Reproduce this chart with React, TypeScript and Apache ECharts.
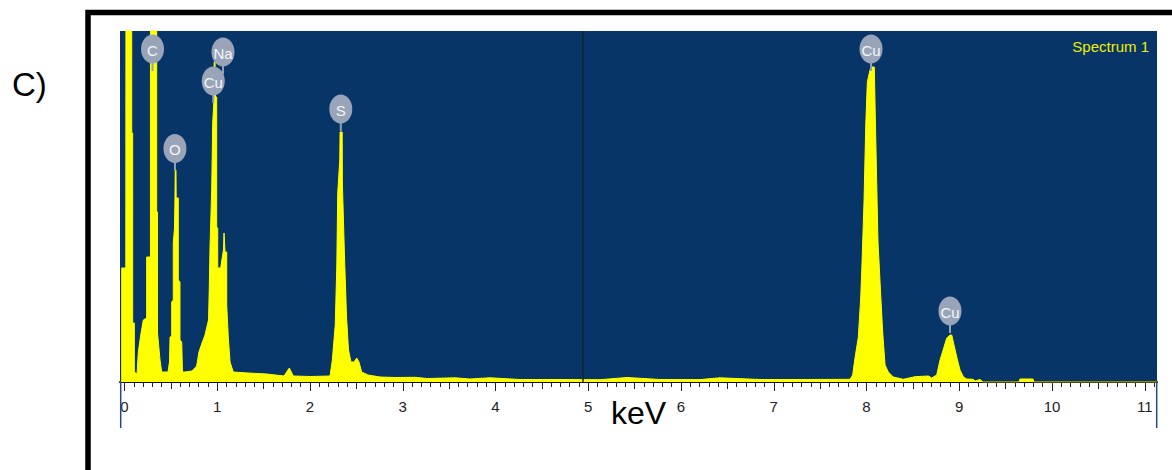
import React, { useEffect, useRef } from "react";
import * as echarts from "echarts";

// EDS spectrum: [energy keV, counts]
const spectrum: [number, number][] = [
  // zero-strobe noise peak
  [-0.043, 0], [-0.03, 0], [-0.03, 1140], [0.014, 1140], [0.016, 5000], [0.078, 5000],
  [0.078, 2490], [0.088, 2490], [0.088, 590], [0.106, 590], [0.106, 100], [0.135, 80],
  // C Ka
  [0.149, 300], [0.175, 470], [0.203, 620], [0.239, 640], [0.239, 1250], [0.28, 1250],
  [0.28, 5000], [0.347, 5000], [0.347, 1700], [0.356, 1700], [0.356, 490], [0.383, 220],
  [0.401, 100], [0.469, 100],
  // O Ka
  [0.485, 200], [0.491, 450], [0.509, 460], [0.509, 800], [0.526, 820], [0.526, 1390],
  [0.539, 1540], [0.544, 1840], [0.547, 2120], [0.555, 2120], [0.557, 1840], [0.58, 1840],
  [0.58, 1020], [0.598, 1000], [0.598, 420], [0.617, 400], [0.625, 100], [0.652, 100],
  [0.728, 110],
  // Cu La + Na Ka
  [0.778, 160], [0.803, 300], [0.832, 380], [0.868, 470], [0.893, 570], [0.906, 620],
  [0.914, 940], [0.922, 1350], [0.94, 1920], [0.951, 2590], [0.963, 2800], [0.967, 3200],
  [0.976, 3200], [0.981, 2850], [0.994, 2850], [0.994, 1550], [1.005, 1540], [1.005, 1140],
  [1.037, 1140], [1.053, 1240], [1.067, 1320], [1.073, 1490], [1.079, 1490], [1.084, 1300],
  [1.102, 1300], [1.102, 770], [1.119, 450], [1.138, 200], [1.173, 100],
  // background
  [1.332, 90], [1.533, 80], [1.72, 60], [1.777, 140], [1.82, 60], [2.0, 55], [2.216, 60],
  // S Ka
  [2.241, 220], [2.272, 570], [2.289, 1160], [2.299, 1890], [2.321, 2220], [2.324, 2500],
  [2.347, 2500], [2.349, 1990], [2.372, 1250], [2.394, 650], [2.415, 320], [2.442, 200],
  [2.474, 200], [2.504, 240], [2.528, 200], [2.557, 100], [2.625, 70], [2.755, 50],
  // background
  [2.917, 45], [3.132, 47], [3.262, 35], [3.564, 42], [3.725, 30], [3.94, 42], [4.264, 25],
  [4.695, 25], [5.127, 23], [5.418, 45], [5.774, 25], [6.205, 24], [6.421, 42], [6.852, 25],
  [7.283, 25], [7.607, 26], [7.823, 27],
  // Cu Ka
  [7.851, 70], [7.876, 240], [7.912, 450], [7.938, 850], [7.952, 1200], [7.973, 1800],
  [7.992, 2570], [8.009, 3000], [8.038, 3120], [8.056, 3150], [8.084, 3150], [8.095, 2640],
  [8.11, 1990], [8.124, 1400], [8.153, 870], [8.175, 490], [8.2, 170], [8.235, 100],
  [8.289, 50], [8.397, 27], [8.523, 53], [8.667, 60], [8.703, 40],
  // Cu Kb
  [8.757, 70], [8.793, 220], [8.836, 350], [8.865, 440], [8.901, 470], [8.919, 470],
  [8.936, 400], [8.973, 250], [9.008, 120], [9.044, 53], [9.081, 30], [9.149, 27],
  [9.171, 10], [9.224, 25], [9.256, 0], [9.644, 0], [9.655, 30], [9.795, 30], [9.806, 0],
  [11.13, 0],
];

// Element markers: energy (keV) and the count where the marker stem ends
const peakLabels = [
  { name: "C", energy: 0.302, anchor: 3110 },
  { name: "O", energy: 0.544, anchor: 2115 },
  { name: "Na", energy: 1.062, anchor: 3080 },
  { name: "Cu", energy: 0.957, anchor: 2790 },
  { name: "S", energy: 2.332, anchor: 2510 },
  { name: "Cu", energy: 8.049, anchor: 3110 },
  { name: "Cu", energy: 8.9, anchor: 490 },
];

const majorTicks = [0, 1, 2, 3, 4, 5, 6, 7, 8, 9, 10, 11];
const halfTicks = [0.5, 1.5, 2.5, 3.5, 4.5, 5.5, 6.5, 7.5, 8.5, 9.5, 10.5];
const minorTicks: number[] = [];
for (let i = 1; i <= 111; i++) if (i % 5 !== 0) minorTicks.push(i / 10);

const cursorEnergy = 4.94;
const X_MIN = -0.0485;
const X_MAX = 11.132;
const Y_MAX = 3510;

const SANS = "'Liberation Sans', Arial, sans-serif";

function tickAxis(values: number[], len: number) {
  return {
    type: "value",
    gridIndex: 0,
    min: X_MIN,
    max: X_MAX,
    position: "bottom",
    axisLine: { show: false, onZero: false },
    axisTick: { show: true, customValues: values, length: len, lineStyle: { color: "#222", width: 1 } },
    axisLabel: { show: false },
    splitLine: { show: false },
  };
}

export default function App() {
  const ref = useRef<HTMLDivElement>(null);

  useEffect(() => {
    const chart = echarts.init(ref.current!, null, { renderer: "svg" });
    chart.setOption({
      animation: false,
      grid: {
        left: 120,
        top: 31,
        width: 1037,
        height: 351,
        show: true,
        backgroundColor: "#083567",
        borderWidth: 0,
      },
      xAxis: [
        {
          type: "value",
          min: X_MIN,
          max: X_MAX,
          position: "bottom",
          name: "keV",
          nameLocation: "middle",
          nameGap: 15,
          nameMoveOverlap: false,
          nameTextStyle: { fontFamily: SANS, fontSize: 32, color: "#000" },
          axisLine: { show: true, onZero: false, lineStyle: { color: "#111", width: 2 } },
          axisTick: { show: true, customValues: majorTicks, length: 9, lineStyle: { color: "#222", width: 1 } },
          axisLabel: {
            customValues: majorTicks,
            margin: 17,
            fontSize: 15,
            fontFamily: SANS,
            color: "#222",
            formatter: (v: number) => String(v),
          },
          splitLine: { show: false },
        },
        tickAxis(halfTicks, 7),
        tickAxis(minorTicks, 5),
      ],
      yAxis: { type: "value", min: 0, max: Y_MAX, show: false, splitLine: { show: false } },
      series: [
        {
          type: "line",
          data: spectrum,
          showSymbol: false,
          clip: true,
          lineStyle: { color: "#ffff00", width: 1 },
          areaStyle: { color: "#ffff00", opacity: 1 },
          markLine: {
            silent: true,
            symbol: "none",
            label: { show: false },
            lineStyle: { color: "#18222e", width: 1.5, type: "solid" },
            data: [{ xAxis: cursorEnergy }],
          },
        },
      ],
    });

    const graphics: any[] = [
      {
        type: "rect",
        id: "frame",
        shape: { x: 88, y: 12.5, width: 1200, height: 600 },
        style: { fill: "none", stroke: "#000", lineWidth: 5.5 },
        z: 100,
      },
      {
        type: "text",
        id: "panel",
        style: {
          text: "C)",
          x: 12,
          y: 84,
          fontSize: 33,
          fontFamily: SANS,
          fill: "#000",
          align: "left",
          verticalAlign: "middle",
        },
        z: 100,
      },
      {
        type: "text",
        id: "spectrumName",
        style: {
          text: "Spectrum 1",
          x: 1149,
          y: 46,
          fontSize: 15,
          fontFamily: SANS,
          fill: "#eeee00",
          align: "right",
          verticalAlign: "middle",
        },
        z: 100,
      },
      {
        type: "line",
        id: "edgeL",
        shape: { x1: 120.7, y1: 382, x2: 120.7, y2: 428 },
        style: { stroke: "#24488a", lineWidth: 1.5 },
        z: 100,
      },
      {
        type: "line",
        id: "edgeR",
        shape: { x1: 1156.7, y1: 382, x2: 1156.7, y2: 428 },
        style: { stroke: "#24488a", lineWidth: 1.5 },
        z: 100,
      },
    ];

    const LIFT = 22;
    peakLabels.forEach((p, i) => {
      const pt = chart.convertToPixel({ seriesIndex: 0 }, [p.energy, p.anchor]) as number[];
      const cx = pt[0];
      const cy = pt[1] - LIFT;
      graphics.push({
        type: "group",
        id: "peak" + i,
        z: 110 + i,
        children: [
          {
            type: "line",
            shape: { x1: cx, y1: pt[1], x2: cx, y2: cy },
            style: { stroke: "#95a0b6", lineWidth: 2 },
            z: 110 + i,
          },
          {
            type: "ellipse",
            shape: { cx, cy, rx: 11.5, ry: 14.5 },
            style: { fill: "#9aa4b9" },
            z: 110 + i,
          },
          {
            type: "text",
            style: {
              text: p.name,
              x: cx,
              y: cy + 1,
              fontSize: 15,
              fontFamily: SANS,
              fill: "#f4f6fa",
              align: "center",
              verticalAlign: "middle",
            },
            z: 110 + i,
          },
        ],
      });
    });

    chart.setOption({ graphic: graphics });
    return () => chart.dispose();
  }, []);

  return (
    <div
      ref={ref}
      style={{ position: "fixed", left: 0, top: 0, width: 1172, height: 470, background: "#fff" }}
    />
  );
}
